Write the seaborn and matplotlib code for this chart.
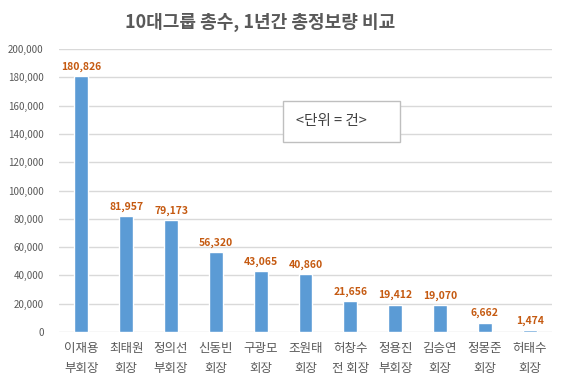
import matplotlib
matplotlib.use('Agg')
import matplotlib.pyplot as plt
import seaborn as sns
import pandas as pd
from matplotlib.patches import Rectangle
from matplotlib.ticker import FuncFormatter

# data
names = ['이재용\n부회장', '최태원\n회장', '정의선\n부회장', '신동빈\n회장', '구광모\n회장', '조원태\n회장',
         '허창수\n전 회장', '정용진\n부회장', '김승연\n회장', '정몽준\n회장', '허태수\n회장']
counts = [180826, 81957, 79173, 56320, 43065, 40860, 21656, 19412, 19070, 6662, 1474]

data = pd.DataFrame({'name': names, 'count': counts})

sns.set_theme(style='white')
plt.rcParams['font.family'] = ['Noto Sans CJK KR', 'DejaVu Sans']

text_color = '#595959'
fig = plt.figure(figsize=(5.64, 3.91), dpi=100)
ax = fig.add_axes([59 / 564, 1 - 332 / 391, 493 / 564, 283 / 391])

sns.barplot(data=data, x='name', y='count', color='#5B9BD5', width=0.31, saturation=1, ax=ax)

# value labels above bars
for bar, v in zip(ax.patches, counts):
    ax.annotate(f'{v:,}', (bar.get_x() + bar.get_width() / 2, bar.get_height()),
                xytext=(0, 3), textcoords='offset points', ha='center', va='bottom',
                fontsize=7.5, fontweight='bold', color='#C55A11')

ax.set_ylim(0, 200000)
ax.set_yticks(range(0, 200001, 20000))
ax.yaxis.set_major_formatter(FuncFormatter(lambda v, p: f'{int(v):,}'))
ax.set_xlim(-0.5, len(names) - 0.5)
ax.grid(axis='y', color='#D9D9D9', linewidth=1)
ax.set_axisbelow(True)
for s in ax.spines.values():
    s.set_visible(False)
ax.set_xlabel('')
ax.set_ylabel('')
ax.tick_params(axis='y', labelsize=7, colors=text_color, length=0, pad=11)
ax.tick_params(axis='x', labelsize=9, colors=text_color, length=0, pad=7)
for t in ax.get_xticklabels():
    t.set_linespacing(1.7)

fig.text(260 / 564, 1 - 22 / 391, '10대그룹 총수, 1년간 총정보량 비교', ha='center', va='center',
         fontsize=13, fontweight='bold', color=text_color)

# unit box
fig.patches.append(Rectangle((283 / 564, 1 - 142 / 391), 117 / 564, 41 / 391, transform=fig.transFigure,
                             fc='white', ec='#BFBFBF', lw=1, zorder=5))
fig.text(296 / 564, 1 - 121 / 391, '<단위 = 건>', ha='left', va='center',
         fontsize=10.5, color='#404040', zorder=6)

fig.savefig('out.png', dpi=100)
